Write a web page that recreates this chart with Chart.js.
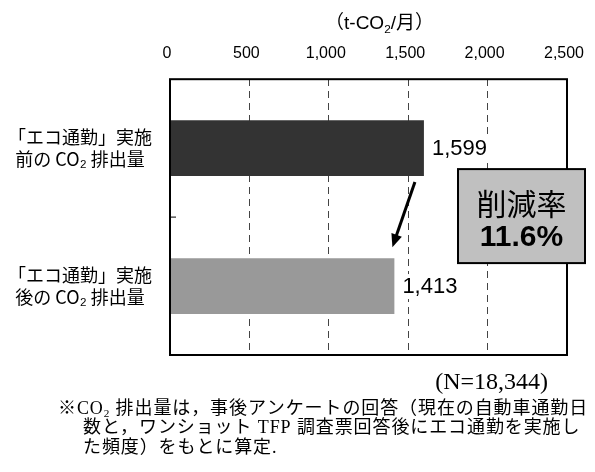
<!DOCTYPE html>
<html>
<head>
<meta charset="utf-8">
<script src="https://cdn.jsdelivr.net/npm/chart.js@4.4.1/dist/chart.umd.min.js"></script>
<style>
  html, body { margin: 0; padding: 0; background: #fff; }
</style>
</head>
<body>
<canvas id="chart" width="595" height="472"></canvas>
<script>
// chart data
const categories = [
  ["「エコ通勤」実施", "前の CO₂ 排出量"],
  ["「エコ通勤」実施", "後の CO₂ 排出量"],
];
const emissions = [1599, 1413];
const barColors = ["#333333", "#999999"];
const axisMin = 0;
const axisMax = 2500;
const axisStep = 500;

// texts (second item true = subscript)
const unitLabel = [["（t-CO", false], ["2", true], ["/月）", false]];
const reductionTitle = "削減率";
const reductionRate = "11.6%";
const sampleSize = "(N=18,344)";
const notes = [
  [["※CO", false], ["2", true], [" 排出量は，事後アンケートの回答（現在の自動車通勤日", false]],
  [["数と，ワンショット TFP 調査票回答後にエコ通勤を実施し", false]],
  [["た頻度）をもとに算定.", false]],
];

const sansFont = '"Liberation Sans", "Noto Sans CJK JP", sans-serif';
const cjkFont = '"Noto Sans CJK JP", sans-serif';
const serifFont = '"Liberation Serif", "Noto Sans CJK JP", serif';

// draw text made of normal / subscript parts
function drawRich(ctx, parts, x, y, size, family, align) {
  let total = 0;
  const widths = parts.map(([t, sub]) => {
    ctx.font = (sub ? size * 0.62 : size) + 'px ' + family;
    const w = ctx.measureText(t).width;
    total += w;
    return w;
  });
  let cx = x;
  if (align === 'center') cx = x - total / 2;
  if (align === 'right') cx = x - total;
  ctx.textAlign = 'left';
  ctx.textBaseline = 'middle';
  parts.forEach(([t, sub], i) => {
    ctx.font = (sub ? size * 0.62 : size) + 'px ' + family;
    ctx.fillText(t, cx, sub ? y + size * 0.3 : y);
    cx += widths[i];
  });
}

const overlay = {
  id: 'overlay',
  afterDatasetsDraw(chart) {
    const { ctx, chartArea: a, scales: { y } } = chart;
    const meta = chart.getDatasetMeta(0);
    ctx.save();

    // small tick between categories
    const midY = (y.getPixelForValue(0) + y.getPixelForValue(1)) / 2;
    ctx.strokeStyle = '#000';
    ctx.lineWidth = 1;
    ctx.beginPath();
    ctx.moveTo(a.left, midY);
    ctx.lineTo(a.left + 6, midY);
    ctx.stroke();

    // plot frame
    ctx.lineWidth = 2;
    ctx.strokeRect(a.left, a.top, a.width, a.height);

    // value labels with white background
    meta.data.forEach((bar, i) => {
      const txt = emissions[i].toLocaleString('en-US');
      ctx.font = '22px ' + sansFont;
      const w = ctx.measureText(txt).width;
      const tx = bar.x + 8;
      ctx.fillStyle = '#fff';
      ctx.fillRect(tx - 2, bar.y - 12, w + 4, 25);
      ctx.fillStyle = '#000';
      ctx.textAlign = 'left';
      ctx.textBaseline = 'middle';
      ctx.fillText(txt, tx, bar.y + 1);
    });

    // arrow from first bar to second
    const b0 = meta.data[0];
    const b1 = meta.data[1];
    const x0 = b0.x - 9, y0 = b0.y + b0.height / 2 + 6;
    const x1 = b1.x - 2, y1 = b1.y - b1.height / 2 - 11;
    const ang = Math.atan2(y1 - y0, x1 - x0);
    const head = 13;
    ctx.strokeStyle = '#000';
    ctx.fillStyle = '#000';
    ctx.lineWidth = 3;
    ctx.beginPath();
    ctx.moveTo(x0, y0);
    ctx.lineTo(x1 - Math.cos(ang) * head * 0.8, y1 - Math.sin(ang) * head * 0.8);
    ctx.stroke();
    ctx.beginPath();
    ctx.moveTo(x1, y1);
    ctx.lineTo(x1 - Math.cos(ang) * head + Math.sin(ang) * 5.5, y1 - Math.sin(ang) * head - Math.cos(ang) * 5.5);
    ctx.lineTo(x1 - Math.cos(ang) * head - Math.sin(ang) * 5.5, y1 - Math.sin(ang) * head + Math.cos(ang) * 5.5);
    ctx.closePath();
    ctx.fill();

    // reduction rate box
    const bx = a.right - 109, bw = 127, bh = 94, by = midY - 48;
    ctx.fillStyle = '#c0c0c0';
    ctx.fillRect(bx, by, bw, bh);
    ctx.lineWidth = 2;
    ctx.strokeRect(bx, by, bw, bh);
    ctx.fillStyle = '#000';
    ctx.textAlign = 'center';
    ctx.textBaseline = 'middle';
    ctx.font = '30px ' + cjkFont;
    ctx.fillText(reductionTitle, bx + bw / 2, midY - 14);
    ctx.font = 'bold 30px ' + sansFont;
    ctx.fillText(reductionRate, bx + bw / 2, midY + 21);

    // unit label above axis
    ctx.fillStyle = '#000';
    drawRich(ctx, unitLabel, (a.left + a.right) / 2 + 11, a.top - 55, 19, sansFont, 'center');

    // sample size and notes below
    ctx.font = '24px ' + serifFont;
    ctx.textAlign = 'right';
    ctx.textBaseline = 'middle';
    ctx.fillText(sampleSize, a.right - 19, a.bottom + 28);
    ctx.letterSpacing = '0.9px';
    notes.forEach((line, i) => {
      drawRich(ctx, line, i === 0 ? 58 : 83, a.bottom + 54 + i * 19.5, 18, serifFont, 'left');
    });

    ctx.restore();
  }
};

new Chart(document.getElementById('chart'), {
  type: 'bar',
  plugins: [overlay],
  data: {
    labels: categories,
    datasets: [{
      data: emissions,
      backgroundColor: barColors,
      categoryPercentage: 1,
      barPercentage: 0.405,
    }],
  },
  options: {
    indexAxis: 'y',
    responsive: false,
    animation: false,
    layout: { padding: { top: 28, right: 28, bottom: 117, left: 0 } },
    plugins: {
      legend: { display: false },
      tooltip: { enabled: false },
    },
    scales: {
      x: {
        position: 'top',
        min: axisMin,
        max: axisMax,
        ticks: {
          stepSize: axisStep,
          padding: 16,
          labelOffset: -3,
          color: '#000',
          font: { family: sansFont, size: 16 },
          callback: (v) => v.toLocaleString('en-US'),
        },
        grid: {
          drawTicks: false,
          lineWidth: 1,
          color: (c) => (c.tick && (c.tick.value === axisMin || c.tick.value === axisMax)) ? 'rgba(0,0,0,0)' : '#444',
        },
        border: { display: false, dash: [7, 5] },
        afterFit: (s) => { s.paddingLeft = 0; s.paddingRight = 0; },
      },
      y: {
        grid: { display: false, drawTicks: false },
        border: { display: false },
        ticks: {
          padding: 18,
          crossAlign: 'center',
          color: '#000',
          font: { family: cjkFont, size: 18, lineHeight: 1.2 },
        },
        afterFit: (s) => { s.width = 170; },
      },
    },
  },
});
</script>
</body>
</html>
